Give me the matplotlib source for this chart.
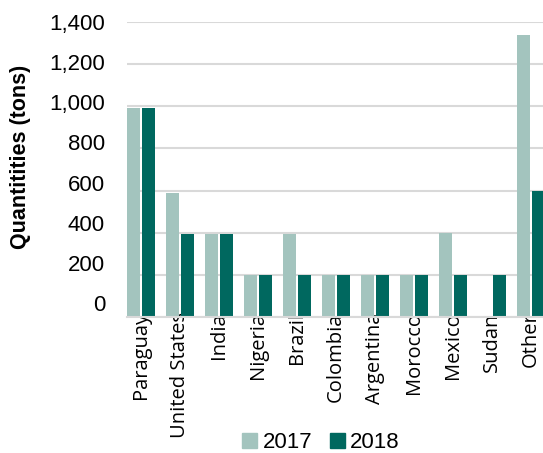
import matplotlib
matplotlib.use("Agg")
import matplotlib.pyplot as plt
import numpy as np
from matplotlib.patches import Patch

categories = ["Paraguay", "United States", "India", "Nigeria", "Brazil", "Colombia",
              "Argentina", "Morocco", "Mexico", "Sudan", "Other"]
v2017 = [990, 590, 395, 200, 395, 200, 200, 200, 400, 0, 1340]
v2018 = [990, 395, 395, 200, 200, 200, 200, 200, 200, 200, 600]
yticks = [0, 200, 400, 600, 800, 1000, 1200, 1400]
ytick_labels = ["0", "200", "400", "600", "800", "1,000", "1,200", "1,400"]
series_names = ["2017", "2018"]

c17 = "#A3C4BE"
c18 = "#00685F"
grid_c = "#D9D9D9"

plt.rcParams['font.family'] = ['Liberation Sans', 'DejaVu Sans']

W, H = 543, 453
fig = plt.figure(figsize=(W/100, H/100), dpi=100)
rect = [127/W, 1-317/H, (W-127)/W, 295/H]
ax = fig.add_axes(rect)

x = np.arange(len(categories))
w = 0.333
ax.bar(x - w/2 - 0.025, v2017, width=w, color=c17, zorder=3)
ax.bar(x + w/2 + 0.025, v2018, width=w, color=c18, zorder=3)

ax.set_xlim(-0.358, 10.31)
ax.set_ylim(0, 1400)
ax.set_yticks(yticks)
ax.set_yticklabels([])
ax.yaxis.grid(True, color=grid_c, linewidth=1.5, zorder=0)
ax.set_axisbelow(True)
ax.set_xticks(x)
ax.set_xticklabels(categories, rotation=90, fontsize=14.5, family=['Open Sans', 'DejaVu Sans'],
                   va='top', ha='center')
ax.tick_params(axis='both', length=0)
ax.tick_params(axis='x', pad=-3.5)
for s in ["top", "right", "left"]:
    ax.spines[s].set_visible(False)
ax.spines["bottom"].set_color(grid_c)
ax.spines["bottom"].set_linewidth(1.5)
ax.spines["bottom"].set_zorder(4)

# tick labels axis (labels are spaced slightly tighter than the gridlines in the source)
ax2 = fig.add_axes(rect, zorder=-1)
ax2.set_ylim(-70, 1400)
ax2.set_yticks(yticks)
ax2.set_yticklabels(ytick_labels, fontsize=16)
ax2.tick_params(axis='y', length=0, pad=15.8)
ax2.set_xticks([])
ax2.patch.set_visible(False)
for s in ax2.spines.values():
    s.set_visible(False)

fig.text(21/W, 1-157/H, "Quantitities (tons)", rotation=90, fontsize=15.5, fontweight="bold",
         ha="center", va="center")

handles = [Patch(color=c17), Patch(color=c18)]
fig.legend(handles, series_names, loc="center", bbox_to_anchor=(321/W, 1-443/H),
           ncol=2, frameon=False, fontsize=16, handlelength=0.68, handleheight=0.68,
           handletextpad=0.23, columnspacing=0.8, borderpad=0)

fig.savefig("out.png", dpi=100)
